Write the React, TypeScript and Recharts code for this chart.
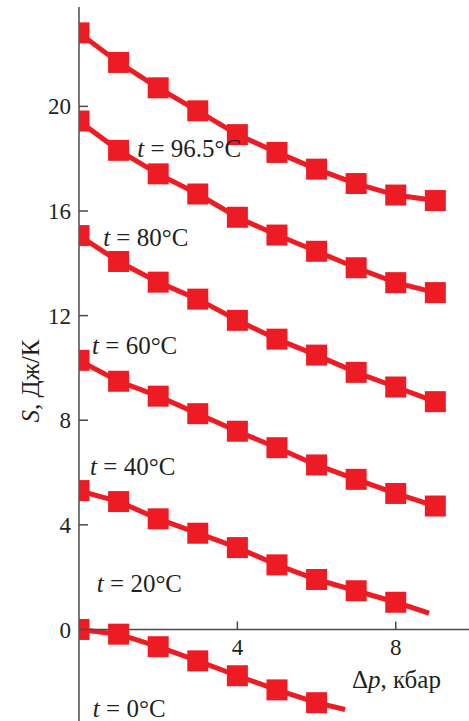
import { LineChart, Line, XAxis, YAxis, ReferenceLine, ReferenceDot } from "recharts";

// pressure steps, kbar
const DP = [0, 1, 2, 3, 4, 5, 6, 7, 8, 9];

// entropy change S, J/K, one list per temperature
const S_96 = [22.81, 21.68, 20.71, 19.83, 18.92, 18.24, 17.6, 17.05, 16.61, 16.4];
const S_80 = [19.44, 18.32, 17.42, 16.65, 15.76, 15.08, 14.46, 13.83, 13.26, 12.88];
const S_60 = [15.06, 14.07, 13.28, 12.63, 11.82, 11.1, 10.49, 9.83, 9.27, 8.71];
const S_40 = [10.29, 9.49, 8.92, 8.25, 7.58, 6.95, 6.29, 5.74, 5.2, 4.72];
const S_20 = [5.31, 4.89, 4.23, 3.68, 3.13, 2.47, 1.91, 1.48, 1.04];
const S_0 = [0, -0.18, -0.66, -1.2, -1.77, -2.31, -2.8];

// the fitted line runs a bit past the last measured point on two curves
const TAIL_20 = [8.84, 0.62];
const TAIL_0 = [6.72, -3.06];

const TEMPS = ["96.5", "80", "60", "40", "20", "0"];
const LABEL_AT = [
    [1.47, 18.07],
    [0.61, 14.66],
    [0.33, 10.52],
    [0.28, 5.91],
    [0.45, 1.43],
    [0.35, -3.35],
];

const Y_TICKS = [0, 4, 8, 12, 16, 20];
const X_TICKS = [4, 8];

const RED = "#ed1c24";
const AXIS = "#4a4a4a";
const INK = "#231f20";
const FONT = "'Liberation Serif', 'DejaVu Serif', serif";

const build = (values: number[], tail?: number[]) => {
    const rows = values.map((s, i) => ({ dp: DP[i], s, tail: false }));
    if (tail) rows.push({ dp: tail[0], s: tail[1], tail: true });
    return rows;
};

const SERIES = [
    build(S_96),
    build(S_80),
    build(S_60),
    build(S_40),
    build(S_20, TAIL_20),
    build(S_0, TAIL_0),
];

const SquareDot = (props: any) => {
    const { cx, cy, payload } = props;
    if (payload?.tail || cx == null || cy == null) return <g />;
    return <rect x={cx - 10.5} y={cy - 10.5} width={21} height={21} fill={RED} />;
};

const YTick = (props: any) => {
    const { x, y, payload } = props;
    return (
        <g>
            <line x1={x + 8} x2={x + 17} y1={y} y2={y} stroke={AXIS} strokeWidth={1.5} />
            <text x={x} y={y} dy="0.35em" textAnchor="end" fontFamily={FONT} fontSize={23} fill={INK}>
                {payload.value}
            </text>
        </g>
    );
};

const App = () => {
    return (
        <div style={{ position: "absolute", left: 0, top: 0, background: "#fff" }}>
            <LineChart width={469} height={721} margin={{ top: 7, right: 0, bottom: 0, left: 19 }}>
                <XAxis type="number" dataKey="dp" domain={[0, 9.85]} allowDataOverflow hide />
                <YAxis
                    type="number"
                    width={60}
                    domain={[-3.5, 23.8]}
                    allowDataOverflow
                    ticks={Y_TICKS}
                    interval={0}
                    axisLine={false}
                    tickLine={false}
                    tickSize={0}
                    tickMargin={8}
                    tick={<YTick />}
                    label={{
                        content: () => (
                            <text
                                transform="translate(30,381) rotate(-90)"
                                textAnchor="middle"
                                dominantBaseline="central"
                                fontFamily={FONT}
                                fontSize={25}
                                fill={INK}
                            >
                                <tspan fontStyle="italic">S</tspan>, Дж/К
                            </text>
                        ),
                    }}
                />
                {SERIES.map((rows, i) => (
                    <Line
                        key={TEMPS[i]}
                        data={rows}
                        dataKey="s"
                        type="linear"
                        stroke={RED}
                        strokeWidth={5}
                        dot={<SquareDot />}
                        activeDot={false}
                        isAnimationActive={false}
                    />
                ))}
                <ReferenceLine
                    y={0}
                    stroke={AXIS}
                    strokeWidth={1.5}
                    label={{
                        content: () => (
                            <text x={352} y={688} fontFamily={FONT} fontSize={25} fill={INK}>
                                Δ<tspan fontStyle="italic">p</tspan>, кбар
                            </text>
                        ),
                    }}
                />
                <ReferenceLine x={0} stroke={AXIS} strokeWidth={1.5} />
                {X_TICKS.map((t) => (
                    <ReferenceDot
                        key={t}
                        x={t}
                        y={0}
                        r={0}
                        shape={(p: any) => (
                            <g>
                                <line x1={p.cx} x2={p.cx} y1={p.cy} y2={p.cy - 8} stroke={AXIS} strokeWidth={1.5} />
                                <text x={p.cx} y={p.cy + 26} textAnchor="middle" fontFamily={FONT} fontSize={23} fill={INK}>
                                    {t}
                                </text>
                            </g>
                        )}
                    />
                ))}
                {TEMPS.map((t, i) => (
                    <ReferenceDot
                        key={"lbl" + t}
                        x={LABEL_AT[i][0]}
                        y={LABEL_AT[i][1]}
                        r={0}
                        shape={(p: any) => (
                            <text x={p.cx} y={p.cy} fontFamily={FONT} fontSize={25} fill={INK}>
                                <tspan fontStyle="italic">t</tspan> = {t}°C
                            </text>
                        )}
                    />
                ))}
            </LineChart>
        </div>
    );
};

export default App;
